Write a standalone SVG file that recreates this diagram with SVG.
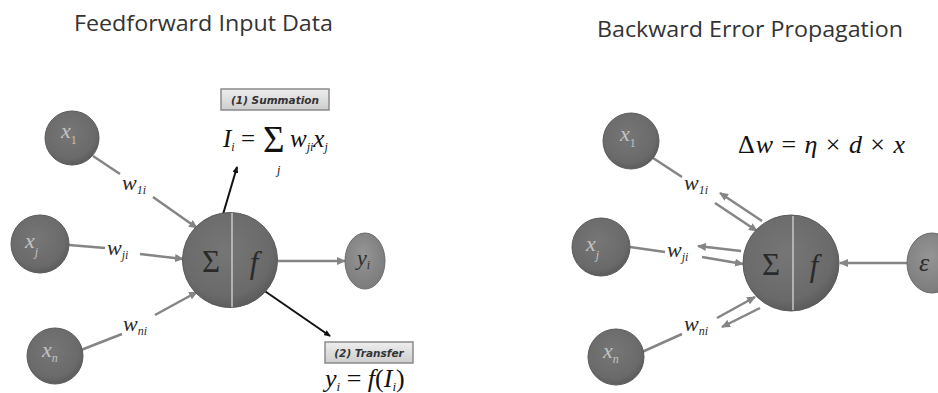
<svg xmlns="http://www.w3.org/2000/svg" width="938" height="393" viewBox="0 0 938 393">
<style>
.title{font-family:"Open Sans","Liberation Sans",sans-serif;font-size:21px;fill:#333}
.node{fill:url(#gNode);stroke:#5a5a5a;stroke-width:1}
.out{fill:url(#gOut);stroke:#6a6a6a;stroke-width:1}
.nl{font-family:"Liberation Serif",serif;font-style:italic;font-size:22px;fill:#c4c4c4}
.sub{font-size:12px}
.op{font-family:"Liberation Serif",serif;font-size:31px;fill:#2a2a2a}
.wl{font-family:"Liberation Serif",serif;font-style:italic;font-size:22px;fill:#2a2a2a}
.math{font-family:"Liberation Serif",serif;fill:#111}
.it{font-style:italic}
.edge{stroke:#858585;stroke-width:2.5;fill:none}
.ptr{stroke:#111;stroke-width:2;fill:none}
.box{fill:url(#gBox);stroke:#8a8a8a;stroke-width:1.5}
.boxt{font-family:"DejaVu Sans","Liberation Sans",sans-serif;font-weight:bold;font-style:italic;font-size:10.5px;fill:#333}
.div{stroke:#c8c8c8;stroke-width:1.5}
</style>
<defs>
<radialGradient id="gNode" cx="45%" cy="40%" r="60%">
<stop offset="0" stop-color="#767676"/>
<stop offset="0.8" stop-color="#6a6a6a"/>
<stop offset="1" stop-color="#5c5c5c"/>
</radialGradient>
<radialGradient id="gOut" cx="45%" cy="40%" r="60%">
<stop offset="0" stop-color="#959595"/>
<stop offset="1" stop-color="#7c7c7c"/>
</radialGradient>
<linearGradient id="gBox" x1="0" y1="0" x2="0" y2="1">
<stop offset="0" stop-color="#eeeeee"/>
<stop offset="1" stop-color="#cdcdcd"/>
</linearGradient>
<marker id="ag" markerUnits="userSpaceOnUse" markerWidth="9" markerHeight="8" refX="8" refY="4" orient="auto">
<path d="M0,0 L9,4 L0,8 z" fill="#858585"/>
</marker>
<marker id="ab" markerUnits="userSpaceOnUse" markerWidth="7" markerHeight="6" refX="6" refY="3" orient="auto">
<path d="M0,0 L7,3 L0,6 z" fill="#111"/>
</marker>
</defs>
<rect width="938" height="393" fill="#ffffff"/>

<text class="title" x="74" y="31" textLength="259" lengthAdjust="spacingAndGlyphs">Feedforward Input Data</text>
<text class="title" x="597" y="37" textLength="306" lengthAdjust="spacingAndGlyphs">Backward Error Propagation</text>

<g id="connectors">
<line class="edge" x1="93" y1="156" x2="120" y2="174"/>
<line class="edge" x1="153" y1="197" x2="197" y2="228" marker-end="url(#ag)"/>
<line class="edge" x1="69" y1="245" x2="105" y2="248"/>
<line class="edge" x1="140" y1="254" x2="183" y2="259" marker-end="url(#ag)"/>
<line class="edge" x1="81" y1="350" x2="122" y2="334"/>
<line class="edge" x1="155" y1="315" x2="197" y2="292" marker-end="url(#ag)"/>
<line class="edge" x1="278" y1="261" x2="345" y2="261" marker-end="url(#ag)"/>
<line class="ptr" x1="216" y1="238" x2="237" y2="167" marker-end="url(#ab)"/>
<line class="ptr" x1="256" y1="285" x2="330" y2="336" marker-end="url(#ab)"/>
<line class="edge" x1="653" y1="158" x2="682" y2="177"/>
<line class="edge" x1="630" y1="247" x2="665" y2="252"/>
<line class="edge" x1="642" y1="352" x2="682" y2="334"/>
<line class="edge" x1="762" y1="221" x2="720" y2="193" marker-end="url(#ag)"/>
<line class="edge" x1="715" y1="203" x2="757" y2="231" marker-end="url(#ag)"/>
<line class="edge" x1="741" y1="251" x2="698" y2="246" marker-end="url(#ag)"/>
<line class="edge" x1="702" y1="257" x2="743" y2="264" marker-end="url(#ag)"/>
<line class="edge" x1="717" y1="318" x2="755" y2="297" marker-end="url(#ag)"/>
<line class="edge" x1="760" y1="308" x2="722" y2="327" marker-end="url(#ag)"/>
<line class="edge" x1="907" y1="263" x2="840" y2="263" marker-end="url(#ag)"/>
</g>

<g id="x1-left">
<circle class="node" cx="72" cy="138" r="27"/>
<text class="nl" x="61" y="138">x<tspan class="sub" dy="6" font-style="normal">1</tspan></text>
</g>
<g id="xj-left">
<circle class="node" cx="40" cy="244" r="29"/>
<text class="nl" x="25" y="248">x<tspan class="sub" dy="8">j</tspan></text>
</g>
<g id="xn-left">
<circle class="node" cx="55" cy="356" r="28"/>
<text class="nl" x="42" y="357">x<tspan class="sub" dy="5">n</tspan></text>
</g>
<g id="neuron-left">
<circle class="node" cx="230" cy="260" r="47.5"/>
<line class="div" x1="232" y1="213" x2="232" y2="307"/>
<text class="op" x="211" y="272" text-anchor="middle">Σ</text>
<text class="op it" x="254" y="273" text-anchor="middle">f</text>
</g>
<g id="yi">
<ellipse class="out" cx="365" cy="261" rx="20" ry="28"/>
<text class="nl" x="357" y="265" style="fill:#2a2a2a">y<tspan class="sub" dy="4">i</tspan></text>
</g>
<g id="w-labels-left">
<text class="wl" x="122" y="190">w<tspan class="sub" dy="4">1i</tspan></text>
<text class="wl" x="107" y="255">w<tspan class="sub" dy="4">ji</tspan></text>
<text class="wl" x="123" y="331">w<tspan class="sub" dy="4">ni</tspan></text>
</g>
<g id="summation">
<rect class="box" x="221" y="89" width="108" height="21"/>
<text class="boxt" x="275" y="103.5" text-anchor="middle">(1)  Summation</text>
<text class="math" x="223" y="147" style="font-size:25px"><tspan class="it">I</tspan><tspan class="it" style="font-size:12px" dy="4">i</tspan><tspan dy="-4"> = </tspan></text>
<text class="math" x="263" y="152" style="font-size:37px">Σ</text>
<text class="math it" x="277" y="174" style="font-size:12px">j</text>
<text class="math it" x="290" y="147" style="font-size:25px">w<tspan style="font-size:12px" dy="4">ji</tspan><tspan dy="-4">x</tspan><tspan style="font-size:12px" dy="4">j</tspan></text>
</g>
<g id="transfer">
<rect class="box" x="325" y="342" width="88" height="21"/>
<text class="boxt" x="369" y="356.5" text-anchor="middle">(2) Transfer</text>
<text class="math" x="325" y="387" style="font-size:26px"><tspan class="it">y</tspan><tspan class="it" style="font-size:13px" dy="4">i</tspan><tspan dy="-4"> = </tspan><tspan class="it">f</tspan>(<tspan class="it">I</tspan><tspan class="it" style="font-size:13px" dy="4">i</tspan><tspan dy="-4">)</tspan></text>
</g>

<g id="x1-right">
<circle class="node" cx="631" cy="141" r="28"/>
<text class="nl" x="620" y="141">x<tspan class="sub" dy="6" font-style="normal">1</tspan></text>
</g>
<g id="xj-right">
<circle class="node" cx="601" cy="247" r="29"/>
<text class="nl" x="586" y="251">x<tspan class="sub" dy="8">j</tspan></text>
</g>
<g id="xn-right">
<circle class="node" cx="616" cy="357" r="28"/>
<text class="nl" x="603" y="358">x<tspan class="sub" dy="5">n</tspan></text>
</g>
<g id="neuron-right">
<circle class="node" cx="791" cy="263" r="48"/>
<line class="div" x1="793" y1="216" x2="793" y2="310"/>
<text class="op" x="771" y="275" text-anchor="middle">Σ</text>
<text class="op it" x="814" y="276" text-anchor="middle">f</text>
</g>
<g id="epsilon">
<ellipse class="out" cx="932" cy="263" rx="25" ry="30"/>
<text class="op it" x="919" y="271" style="font-size:26px">ε</text>
</g>
<g id="w-labels-right">
<text class="wl" x="684" y="190">w<tspan class="sub" dy="4">1i</tspan></text>
<text class="wl" x="667" y="257">w<tspan class="sub" dy="4">ji</tspan></text>
<text class="wl" x="684" y="331">w<tspan class="sub" dy="4">ni</tspan></text>
</g>
<g id="delta-rule">
<text class="math" x="738" y="153" style="font-size:26px" textLength="167" lengthAdjust="spacing">Δ<tspan class="it">w</tspan> = <tspan class="it">η</tspan> × <tspan class="it">d</tspan> × <tspan class="it">x</tspan></text>
</g>
</svg>
